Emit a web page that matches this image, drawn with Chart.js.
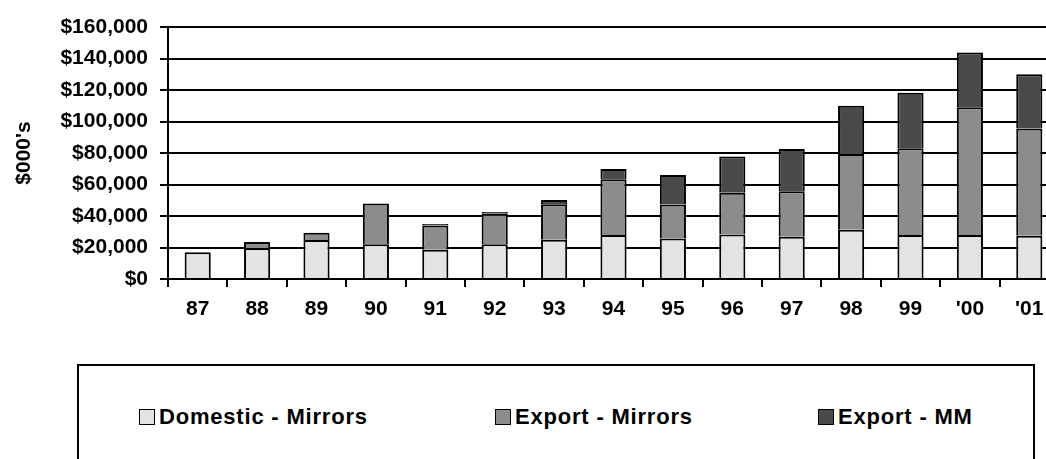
<!DOCTYPE html>
<html><head><meta charset="utf-8">
<script src="https://cdn.jsdelivr.net/npm/chart.js@4.4.1/dist/chart.umd.min.js"></script>
<style>
html,body{margin:0;padding:0;background:#fff;overflow:hidden;width:1046px;height:459px;position:relative}
#wrap{position:absolute;left:0;top:0;width:1100px;height:340px}
#legendBox{position:absolute;left:77px;top:364px;width:958px;height:120px;border:2px solid #000;box-sizing:border-box}
.item{position:absolute;top:405px;height:24px;display:flex;align-items:center;font:bold 22px "Liberation Sans",Arial,sans-serif;color:#000;white-space:nowrap;letter-spacing:0.8px}
.sw{width:14px;height:14px;border:1.6px solid #000;margin-right:4px;flex:none}
</style></head>
<body>
<div id="wrap"><canvas id="c"></canvas></div>
<div id="legendBox"></div>
<script>
const categories = ['87','88','89','90','91','92','93','94','95','96','97','98','99',"'00","'01"];
const domesticMirrors = [17000,19500,24700,22000,18500,22000,25000,28000,25700,28200,26800,31200,28000,28000,27500];
const exportMirrors   = [0,4000,4600,26000,15500,19500,22500,35300,21600,26600,28900,48200,55000,81100,68100];
const exportMM        = [0,0,0,0,1000,1000,2700,6600,18700,22900,26800,30600,35200,34700,34400];
const seriesLabels = ['Domestic - Mirrors','Export - Mirrors','Export - MM'];
const seriesColors = ['#e3e3e3','#8c8c8c','#4a4a4a'];
const yTickValues = [0,20000,40000,60000,80000,100000,120000,140000,160000];
const yTickLabels = ['$0','$20,000','$40,000','$60,000','$80,000','$100,000','$120,000','$140,000','$160,000'];
const yTitle = "$000's";

const FONT = '"Liberation Sans", Arial, sans-serif';
const seriesData = [domesticMirrors, exportMirrors, exportMM];

new Chart(document.getElementById('c'), {
  type: 'bar',
  data: {
    labels: categories,
    datasets: seriesData.map((d,i)=>({
      label: seriesLabels[i], data: d,
      backgroundColor: seriesColors[i], borderColor: '#000', borderWidth: 2,
      barPercentage: 0.44, categoryPercentage: 1
    }))
  },
  options: {
    responsive: true, maintainAspectRatio: false, animation: false,
    layout: { padding: { left: 0, right: 41, top: 27, bottom: 0 } },
    plugins: { legend: { display: false }, tooltip: { enabled: false } },
    scales: {
      x: {
        stacked: true, offset: true,
        grid: { drawOnChartArea: false, color: '#000', lineWidth: 2, tickLength: 8, offset: true },
        border: { display: true, color: '#000', width: 2 },
        ticks: { color: '#000', font: { family: FONT, size: 21, weight: 'bold' }, padding: 10, maxRotation: 0, autoSkip: false },
        afterFit: s => { s.height = 61; }
      },
      y: {
        stacked: true, min: 0, max: 160000,
        afterBuildTicks: s => { s.ticks = yTickValues.map(v => ({ value: v })); },
        grid: { color: '#000', lineWidth: 2, tickLength: 8 },
        border: { display: true, color: '#000', width: 2 },
        ticks: { color: '#000', font: { family: FONT, size: 21, weight: 'bold' }, padding: 12,
                 callback: v => yTickLabels[yTickValues.indexOf(v)] },
        title: { display: true, text: yTitle, color: '#000', font: { family: FONT, size: 21, weight: 'bold' }, padding: { top: 12, bottom: 0 } },
        afterFit: s => { s.width = 168; }
      }
    }
  }
});

const itemLefts = [139, 495, 818];
seriesLabels.forEach((lab,i)=>{
  const it = document.createElement('div');
  it.className = 'item';
  it.style.left = itemLefts[i] + 'px';
  const sw = document.createElement('span');
  sw.className = 'sw'; sw.style.background = seriesColors[i];
  it.appendChild(sw);
  it.appendChild(document.createTextNode(lab));
  document.body.appendChild(it);
});
</script>
</body></html>
